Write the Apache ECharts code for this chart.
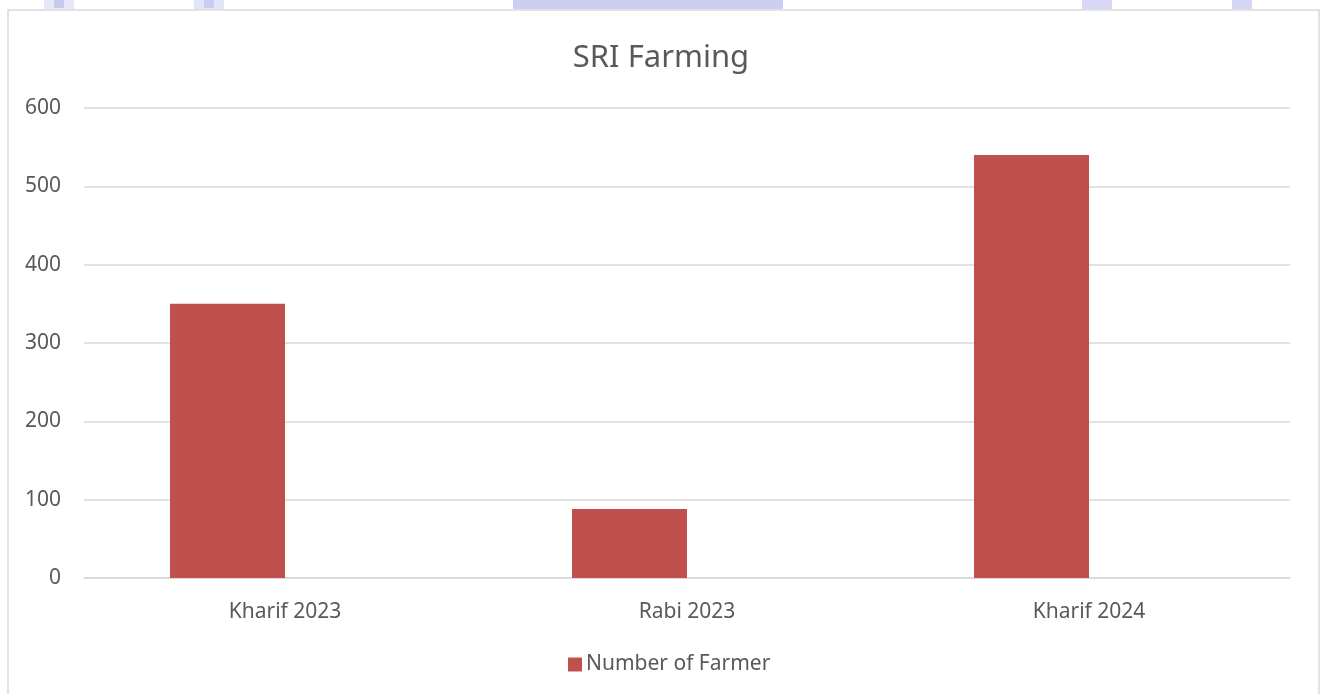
<!DOCTYPE html>
<html>
<head>
<meta charset="utf-8">
<script src="https://cdn.jsdelivr.net/npm/echarts@6/dist/echarts.min.js"></script>
<style>
html,body{margin:0;padding:0;background:#fff;}
#c{width:1322px;height:694px;}
</style>
</head>
<body>
<div id="c"></div>
<script>
var categories = ['Kharif 2023', 'Rabi 2023', 'Kharif 2024'];
var farmers = [350, 88, 540];
var emptySeries = [null, null, null];
var yTicks = [0, 100, 200, 300, 400, 500, 600];

var chart = echarts.init(document.getElementById('c'));
var txt = '#595959';
var font = 'Noto Sans';
chart.setOption({
  backgroundColor: '#fff',
  animation: false,
  title: {
    text: 'SRI Farming',
    left: 'center',
    top: 38,
    textStyle: { fontFamily: font, fontSize: 31, fontWeight: 'normal', color: txt }
  },
  legend: {
    data: ['Number of Farmer'],
    left: 563,
    top: 649,
    itemWidth: 14,
    itemHeight: 14,
    itemGap: 10,
    icon: 'rect',
    textStyle: { fontFamily: font, fontSize: 21, color: txt, padding: [0, 0, 0, -1] }
  },
  grid: { left: 84, right: 32, top: 108, bottom: 116, containLabel: false },
  xAxis: {
    type: 'category',
    data: categories,
    axisLine: { show: true, lineStyle: { color: '#D9D9D9', width: 1.5 } },
    axisTick: { show: false },
    axisLabel: { fontFamily: font, fontSize: 21, color: txt, margin: 24 }
  },
  yAxis: {
    type: 'value',
    min: yTicks[0],
    max: yTicks[yTicks.length - 1],
    interval: yTicks[1] - yTicks[0],
    axisLine: { show: false },
    axisTick: { show: false },
    splitLine: { lineStyle: { color: '#D9D9D9', width: 1.5 } },
    axisLabel: { fontFamily: font, fontSize: 21, color: txt, margin: 23 }
  },
  series: [
    {
      name: 'Number of Farmer',
      type: 'bar',
      data: farmers,
      barWidth: 115,
      barGap: '0%',
      itemStyle: { color: '#C0504D' }
    },
    {
      name: 'Series 2',
      type: 'bar',
      data: emptySeries,
      barWidth: 115,
      itemStyle: { color: '#4F81BD' }
    }
  ],
  graphic: [
    { type: 'rect', silent: true, z: -1, shape: { x: 44, y: 0, width: 30, height: 9 }, style: { fill: '#E6E8FA' } },
    { type: 'rect', silent: true, z: -1, shape: { x: 54, y: 0, width: 10, height: 8 }, style: { fill: '#C9C9EB' } },
    { type: 'rect', silent: true, z: -1, shape: { x: 194, y: 0, width: 30, height: 9 }, style: { fill: '#E2E4FA' } },
    { type: 'rect', silent: true, z: -1, shape: { x: 204, y: 0, width: 10, height: 8 }, style: { fill: '#CBCBF2' } },
    { type: 'rect', silent: true, z: -1, shape: { x: 513, y: 0, width: 270, height: 9 }, style: { fill: '#CDCDF2' } },
    { type: 'rect', silent: true, z: -1, shape: { x: 1082, y: 0, width: 30, height: 9 }, style: { fill: '#D8D8F6' } },
    { type: 'rect', silent: true, z: -1, shape: { x: 1232, y: 0, width: 20, height: 9 }, style: { fill: '#D5D5F6' } },
    { type: 'rect', silent: true, z: 10, shape: { x: 8, y: 10, width: 1311, height: 700 }, style: { fill: 'none', stroke: '#D9D9D9', lineWidth: 1.5 } }
  ]
});
</script>
</body>
</html>
